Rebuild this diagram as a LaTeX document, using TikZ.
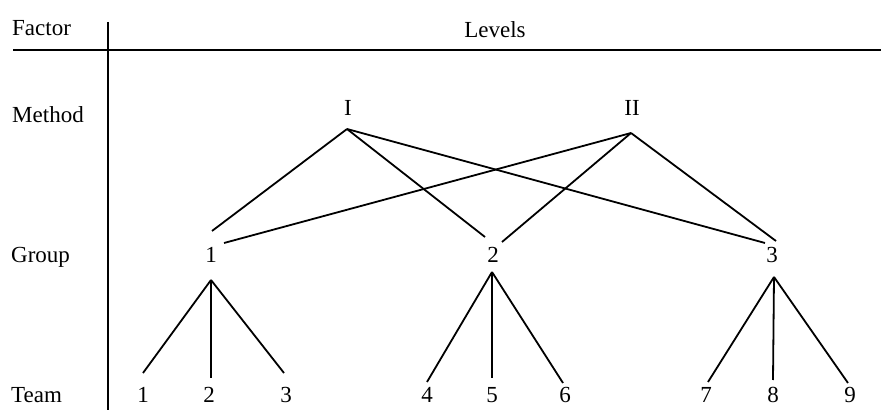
\documentclass[tikz,border=0pt]{standalone}
\usepackage{fontspec}
\setmainfont{Liberation Serif}
\begin{document}
\begin{tikzpicture}[x=1pt,y=-1pt,
  lab/.style={anchor=base west,inner sep=0pt,font=\fontsize{23}{27}\selectfont},
  num/.style={anchor=base,inner sep=0pt,font=\fontsize{23}{27}\selectfont},
  conn/.style={line width=1.8pt}]
\useasboundingbox (0,0) rectangle (881,417);
% rules
\coordinate (hL) at (13,50);
\coordinate (hR) at (881,50);
\coordinate (vT) at (108,22);
\coordinate (vB) at (108,410);
\draw[line width=1.7pt] (hL) -- (hR);
\draw[line width=1.7pt] (vT) -- (vB);
% labels
\node[lab] (factor) at (12,36) {Factor};
\node[num] (levels) at (495,38) {Levels};
\node[lab] (method) at (12,123) {Method};
\node[lab] (group) at (11,262) {Group};
\node[lab] (team) at (11,402) {Team};
% methods
\node[num] (mI) at (348,116) {I};
\node[num] (mII) at (632,116) {II};
% groups
\node[num] (g1) at (211,262) {1};
\node[num] (g2) at (493,262) {2};
\node[num] (g3) at (772,262) {3};
% teams
\node[num] (t1) at (143,402) {1};
\node[num] (t2) at (209,402) {2};
\node[num] (t3) at (286,402) {3};
\node[num] (t4) at (427,402) {4};
\node[num] (t5) at (492,402) {5};
\node[num] (t6) at (565,402) {6};
\node[num] (t7) at (706,402) {7};
\node[num] (t8) at (773,402) {8};
\node[num] (t9) at (850,402) {9};
% connector ends
\coordinate (aI) at (347,129);
\coordinate (aII) at (631,133);
\coordinate (g1I) at (212,231);
\coordinate (g2I) at (485,237);
\coordinate (g3I) at (765,243);
\coordinate (g1II) at (224,243);
\coordinate (g2II) at (502,242);
\coordinate (g3II) at (776,241);
\coordinate (b1) at (211,280);
\coordinate (b2) at (492,272);
\coordinate (b3) at (774,277);
\coordinate (e1) at (143,373);
\coordinate (e2) at (211,378);
\coordinate (e3) at (284,373);
\coordinate (e4) at (427,382);
\coordinate (e5) at (492,378);
\coordinate (e6) at (563,383);
\coordinate (e7) at (708,382);
\coordinate (e8) at (773,380);
\coordinate (e9) at (848,383);
% method -> group
\draw[conn] (aI) -- (g1I);
\draw[conn] (aI) -- (g2I);
\draw[conn] (aI) -- (g3I);
\draw[conn] (aII) -- (g1II);
\draw[conn] (aII) -- (g2II);
\draw[conn] (aII) -- (g3II);
% group -> team
\draw[conn] (b1) -- (e1);
\draw[conn] (b1) -- (e2);
\draw[conn] (b1) -- (e3);
\draw[conn] (b2) -- (e4);
\draw[conn] (b2) -- (e5);
\draw[conn] (b2) -- (e6);
\draw[conn] (b3) -- (e7);
\draw[conn] (b3) -- (e8);
\draw[conn] (b3) -- (e9);
\end{tikzpicture}
\end{document}
